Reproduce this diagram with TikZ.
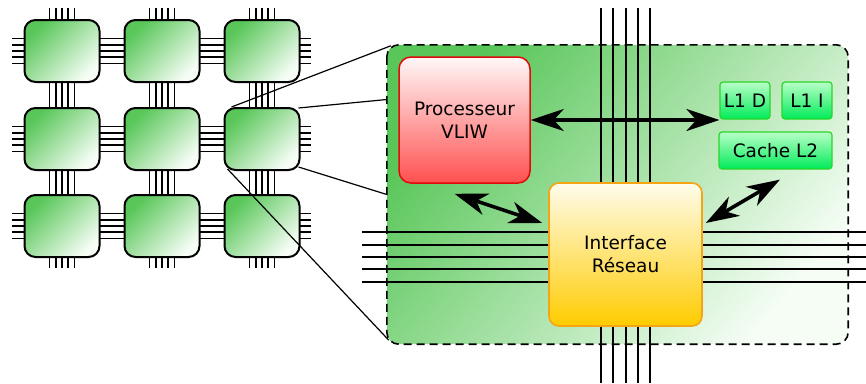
\documentclass[tikz,border=0pt]{standalone}
\usepackage{fontspec}
\setmainfont{DejaVu Sans}
\usetikzlibrary{arrows.meta,calc}

\definecolor{vertfonce}{RGB}{88,198,88}
\definecolor{vertclair}{RGB}{245,253,245}
\definecolor{rougehaut}{RGB}{255,248,248}
\definecolor{rougebas}{RGB}{255,80,80}
\definecolor{rougebord}{RGB}{225,10,10}
\definecolor{jaunehaut}{RGB}{255,252,236}
\definecolor{jaunebas}{RGB}{255,204,0}
\definecolor{orangebord}{RGB}{245,165,20}
\definecolor{cachehaut}{RGB}{185,255,200}
\definecolor{cachebas}{RGB}{0,235,90}
\definecolor{cachebord}{RGB}{40,215,40}

% degrades lineaires (bas -> haut)
\pgfdeclareverticalshading{degradevert}{100bp}{color(0bp)=(vertclair); color(25bp)=(vertclair); color(75bp)=(vertfonce); color(100bp)=(vertfonce)}
\pgfdeclareverticalshading{degraderouge}{100bp}{color(0bp)=(rougebas); color(25bp)=(rougebas); color(75bp)=(rougehaut); color(100bp)=(rougehaut)}
\pgfdeclareverticalshading{degradejaune}{100bp}{color(0bp)=(jaunebas); color(25bp)=(jaunebas); color(75bp)=(jaunehaut); color(100bp)=(jaunehaut)}
\pgfdeclareverticalshading{degradecache}{100bp}{color(0bp)=(cachebas); color(25bp)=(cachebas); color(75bp)=(cachehaut); color(100bp)=(cachehaut)}

\tikzset{
  fil/.style={black,line width=1.7pt},
  tuile/.style={draw,line width=2pt,rounded corners=11pt,minimum width=75pt,minimum height=62pt,
    shading=degradevert,shading angle=45},
  texte/.style={font=\fontsize{18.5}{23}\selectfont,align=center,inner sep=0pt},
  cachebox/.style={texte,draw=cachebord,line width=1.2pt,rounded corners=3pt,minimum height=37pt,shading=degradecache},
  lien/.style={line width=3.6pt,{Stealth[length=33pt,width=22pt,inset=10pt]}-{Stealth[length=33pt,width=22pt,inset=10pt]}},
}

\begin{document}
\begin{tikzpicture}[x=1pt,y=-1pt]
  \useasboundingbox (0,0) rectangle (866,383);

  % grille de tuiles
  \foreach \x in {62,162,262}
    \foreach \d in {-12.4,-6.2,0,6.2,12.4}
      \draw[fil] (\x+\d,8) -- (\x+\d,268);
  \foreach \y in {51,139,226}
    \foreach \d in {-12.4,-6.2,0,6.2,12.4}
      \draw[fil] (12,\y+\d) -- (311,\y+\d);
  \foreach \c/\x in {1/62,2/162,3/262}
    \foreach \r/\y in {1/51,2/139,3/226}
      \node[tuile] (t\r\c) at (\x,\y) {};

  % zoom
  \node[minimum width=461pt,minimum height=299pt,inner sep=0pt] (coeur) at (617.5,194.5) {};
  \draw[line width=1.2pt] ($(t23.north west)+(8,0)$) -- ($(coeur.north west)+(4,1)$);
  \draw[line width=1.2pt] ($(t23.north east)+(-2,1)$) -- ($(coeur.west)+(0,-95)$);
  \draw[line width=1.2pt] ($(t23.south east)+(-2,-4)$) -- (coeur.west);
  \draw[line width=1.2pt] ($(t23.south west)+(4,-2)$) -- ($(coeur.south west)+(2,-4)$);

  % tuile agrandie
  \draw[line width=1.6pt,dash pattern=on 8pt off 5pt,rounded corners=12pt,
    shading=degradevert,shading angle=50]
    (coeur.north west) rectangle (coeur.south east);
  \foreach \d in {-24.6,-12.3,0,12.3,24.6} {
    \draw[fil,line width=2pt] (625.5+\d,8) -- (625.5+\d,383);
    \draw[fil,line width=2pt] (362,257+\d) -- (866,257+\d);
  }

  \node[texte,draw=orangebord,line width=1.6pt,rounded corners=10pt,minimum width=153pt,minimum height=143pt,
    shading=degradejaune] (reseau) at (625.5,254.5) {Interface\\Réseau};
  \node[texte,draw=rougebord,line width=1.5pt,rounded corners=12pt,minimum width=131pt,minimum height=126pt,
    shading=degraderouge] (proc) at (464.5,120) {Processeur\\VLIW};
  \node[cachebox,minimum width=50pt] (l1d) at (745,100.5) {L1 D};
  \node[cachebox,minimum width=50pt] (l1i) at (807,100.5) {L1 I};
  \node[cachebox,minimum width=113pt] (cache) at (775.5,150.5) {Cache L2};

  % liens
  \draw[lien] (proc.east) -- (proc.east -| l1d.west);
  \draw[lien] ($(proc.south)+(-10,10)$) -- ($(reseau.west)+(-6,-31.5)$);
  \draw[lien] ($(reseau.east)+(3,-31.5)$) -- ($(cache.south)+(4.5,10)$);
\end{tikzpicture}
\end{document}
